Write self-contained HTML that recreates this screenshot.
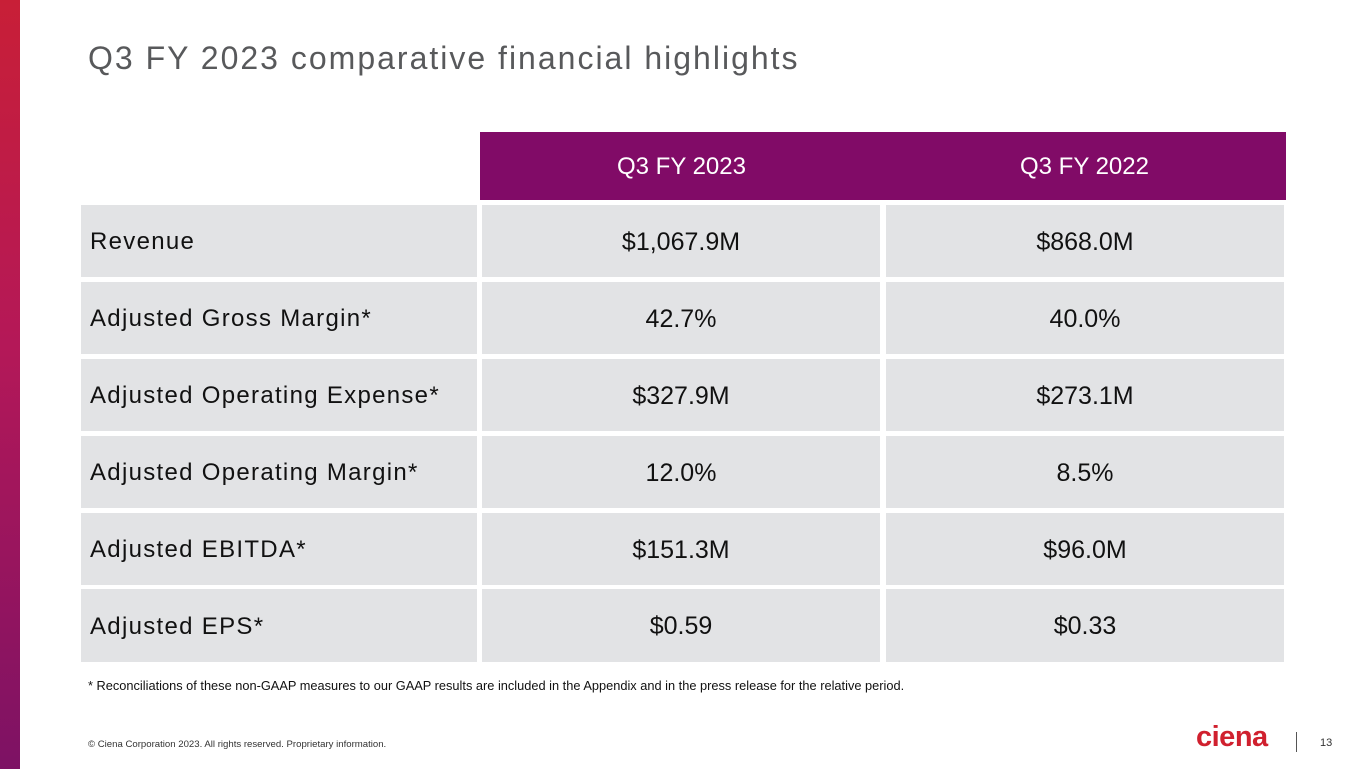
<!DOCTYPE html>
<html><head><meta charset="utf-8"><style>
body{margin:0;width:1365px;height:769px;background:#fff;position:relative;overflow:hidden;font-family:"Liberation Sans",sans-serif}
.abs{position:absolute}
.bar{left:0;top:0;width:20px;height:769px;background:linear-gradient(#c81f37,#b41858 45%,#7d1264)}
h1{position:absolute;left:88px;top:40px;margin:0;font-weight:normal;font-size:32px;color:#58595b;letter-spacing:2px}
.cell{position:absolute;background:#e2e3e5;font-size:25px;color:#111;display:flex;align-items:center;padding-top:2px;box-sizing:border-box}
.lab{left:81px;width:396px;padding-left:9px;letter-spacing:1.3px;font-size:24px}
.c1{left:482px;width:398px;justify-content:center}
.c2{left:886px;width:398px;justify-content:center}
.hd{position:absolute;top:132px;height:68px;background:#810b67;color:#fff;font-size:24px;display:flex;align-items:center;justify-content:center;padding-top:2px;box-sizing:border-box}
</style></head><body>
<div class="abs bar"></div>
<h1>Q3 FY 2023 comparative financial highlights</h1>
<div class="hd" style="left:480px;width:403px">Q3 FY 2023</div>
<div class="hd" style="left:883px;width:403px">Q3 FY 2022</div>
<div id="rows"></div>
<div class="abs" style="left:88px;top:678px;font-size:12.8px;color:#111">* Reconciliations of these non-GAAP measures to our GAAP results are included in the Appendix and in the press release for the relative period.</div>
<div class="abs" style="left:88px;top:739px;font-size:9.6px;color:#333">© Ciena Corporation 2023. All rights reserved. Proprietary information.</div>
<div class="abs" style="left:1196px;top:721px;font-size:29px;font-weight:bold;color:#d0202e;letter-spacing:-0.5px">ciena</div>
<div class="abs" style="left:1296px;top:732px;width:1px;height:20px;background:#555"></div>
<div class="abs" style="left:1320px;top:737px;font-size:11px;color:#333">13</div>
<script>
const labels=["Revenue","Adjusted Gross Margin*","Adjusted Operating Expense*","Adjusted Operating Margin*","Adjusted EBITDA*","Adjusted EPS*"];
const fy23=["$1,067.9M","42.7%","$327.9M","12.0%","$151.3M","$0.59"];
const fy22=["$868.0M","40.0%","$273.1M","8.5%","$96.0M","$0.33"];
const tops=[205,282,359,436,513,589];
const root=document.getElementById('rows');
labels.forEach((l,i)=>{
  [[ 'lab',l,'row-label'],['c1',fy23[i],'fy2023-value'],['c2',fy22[i],'fy2022-value']].forEach(([c,t,n])=>{
    const d=document.createElement('div');
    d.className='cell '+c;
    d.style.top=tops[i]+'px';d.style.height=(i==5?73:72)+'px';
    d.textContent=t;
    
    
    root.appendChild(d);
  });
});
</script>
</body></html>
